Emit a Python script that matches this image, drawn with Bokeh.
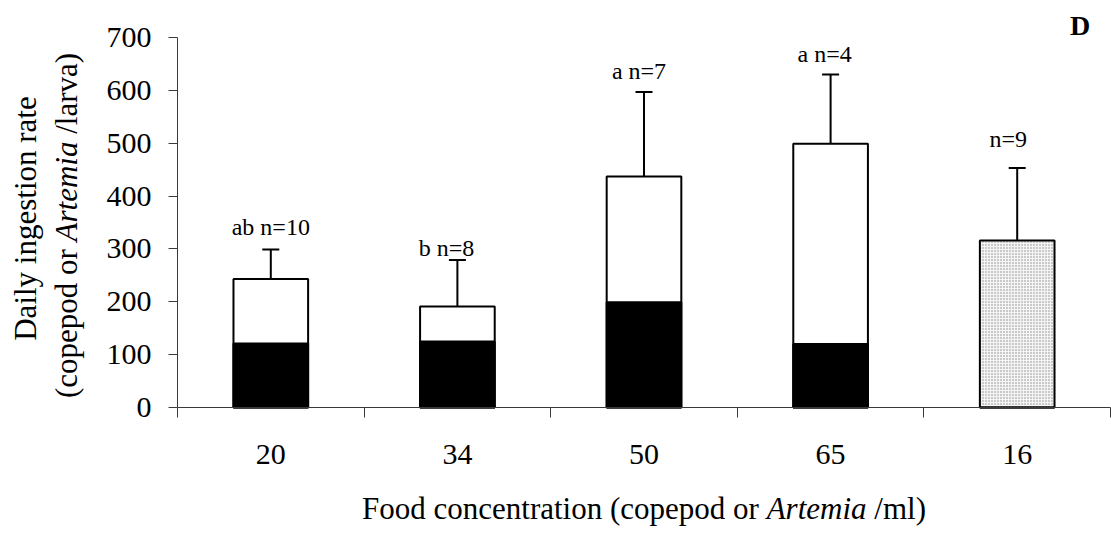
import math

from bokeh.core.properties import value
from bokeh.embed import file_html
from bokeh.models import (ColumnDataSource, FixedTicker, LinearAxis,
                          Range1d, TeeHead, Whisker)
from bokeh.plotting import figure
from bokeh.resources import INLINE

# ---- data -------------------------------------------------------------
concentrations = ["20", "34", "50", "65", "16"]          # food per ml
lower_part = [121, 125, 199, 120, 0]                     # black segment
bar_total = [243, 191, 437, 499, 316]                    # full bar height
upper_sd = [56, 88, 160, 131, 137]                       # upper error
group_labels = ["ab n=10", "b n=8", "a n=7", "a n=4", "n=9"]
y_ticks = [0, 100, 200, 300, 400, 500, 600, 700]

# ---- layout / style ---------------------------------------------------
W, H = 1111, 534
# where the axes sit on the canvas (pixels from the edges)
LEFT, RIGHT, TOP, BOTTOM = 177, 1, 37, 127
Y_MAX = 700
FONT = "Liberation Serif"
AXIS_COLOR = "#3a3a3a"
MID = 0.3375          # baseline -> middle of the text box, in em

LABEL_SIZE = 24
TITLE_SIZE = 31

# pixel nudges (to the baseline) for the group letters above the error bars
label_dx = [0, -11, -5, -6, -9]
label_dy = [-14, -4, -13, -12, -21]

n = len(concentrations)
xs = [i + 0.5 for i in range(n)]
err_top = [t + s for t, s in zip(bar_total, upper_sd)]
fills = ["white"] * (n - 1) + ["#f4f4f4"]
hatches = [" "] * (n - 1) + ["."]

px_per_x = (W - LEFT - RIGHT) / n
px_per_y = (H - TOP - BOTTOM) / Y_MAX


def to_data(px, py):
    """Canvas pixel position -> data coordinates (for free-floating text)."""
    return (px - LEFT) / px_per_x, (H - BOTTOM - py) / px_per_y


# advance widths (1/1000 em) of the serif face, regular and italic
REG = {' ': 250, '(': 333, ')': 333, '/': 278, 'A': 722, 'D': 722, 'F': 556,
       'a': 444, 'c': 444, 'd': 500, 'e': 444, 'g': 500, 'i': 278, 'l': 278,
       'm': 778, 'n': 500, 'o': 500, 'p': 500, 'r': 333, 's': 389, 't': 278,
       'v': 500, 'y': 500}
ITA = {'A': 611, 'r': 389, 't': 278, 'e': 444, 'm': 722, 'i': 278, 'a': 500}


def text_width(s, table, size):
    return sum(table[c] for c in s) * size / 1000.0


# the frame fills the whole canvas; axes are pinned at x=0 / y=0 so that
# every title and letter can sit around them without being clipped
x_range = Range1d(-LEFT / px_per_x, n + RIGHT / px_per_x)
y_range = Range1d(-BOTTOM / px_per_y, Y_MAX + TOP / px_per_y)

p = figure(width=W, height=H, x_range=x_range, y_range=y_range,
           x_axis_type=None, y_axis_type=None,
           output_backend="svg", toolbar_location=None,
           min_border=0)
p.outline_line_color = None
p.background_fill_color = "white"
p.border_fill_color = "white"

# ---- axes -------------------------------------------------------------
xaxis = LinearAxis(
    ticker=FixedTicker(ticks=xs, minor_ticks=list(range(n + 1))),
    major_label_overrides={x: c for x, c in zip(xs, concentrations)},
    fixed_location=0, bounds=(0, n),
    major_tick_in=0, major_tick_out=0, minor_tick_in=0, minor_tick_out=10,
    minor_tick_line_color=AXIS_COLOR, axis_line_color=AXIS_COLOR,
    axis_line_width=1, major_label_standoff=27,
    major_label_text_font=FONT, major_label_text_font_size="30px",
    major_label_text_color="black")
p.add_layout(xaxis, "below")

yaxis = LinearAxis(
    ticker=FixedTicker(ticks=y_ticks),
    fixed_location=0, bounds=(0, Y_MAX),
    major_tick_in=0, major_tick_out=9, minor_tick_in=0, minor_tick_out=0,
    major_tick_line_color=AXIS_COLOR, axis_line_color=AXIS_COLOR,
    axis_line_width=1, major_label_standoff=17,
    major_label_text_font=FONT, major_label_text_font_size="30px",
    major_label_text_color="black")
p.add_layout(yaxis, "left")

# ---- bars -------------------------------------------------------------
src = ColumnDataSource(dict(
    x=xs, lower=lower_part, total=bar_total, err_top=err_top,
    fill=fills, hatch=hatches, label=group_labels,
    dx=label_dx, dy=[d - MID * LABEL_SIZE for d in label_dy]))

p.vbar(x="x", bottom=0, top="total", width=0.4, source=src,
       fill_color="fill", line_color="black", line_width=2,
       hatch_pattern="hatch", hatch_color="#8c8c8c", hatch_scale=3,
       hatch_weight=1)
p.vbar(x="x", bottom=0, top="lower", width=0.4, source=src,
       fill_color="black", line_color="black", line_width=2)

whisk = Whisker(base="x", lower="total", upper="err_top", source=src,
                line_color="black", line_width=2,
                upper_head=TeeHead(size=17, line_color="black", line_width=2),
                lower_head=None)
p.add_layout(whisk)

p.text(x="x", y="err_top", text="label", source=src,
       x_offset="dx", y_offset="dy",
       text_font=value(FONT), text_font_size=f"{LABEL_SIZE}px",
       text_color="black", text_align="center", text_baseline="middle")

# ---- axis titles (mixed roman / italic runs) ---------------------------
SPACE = REG[' '] * TITLE_SIZE / 1000.0
title_rows = dict(x=[], y=[], text=[], style=[], angle=[])


def add_run(segments, start_px, base_px, vertical=False):
    """Lay out text segments one after another along a common baseline."""
    pos = start_px
    mid = base_px - MID * TITLE_SIZE
    for txt, italic, gap_after in segments:
        table = ITA if italic else REG
        x, y = to_data(mid, pos) if vertical else to_data(pos, mid)
        title_rows["x"].append(x)
        title_rows["y"].append(y)
        title_rows["text"].append(txt)
        title_rows["style"].append("italic" if italic else "normal")
        title_rows["angle"].append(math.pi / 2 if vertical else 0.0)
        step = text_width(txt, table, TITLE_SIZE) + gap_after * SPACE
        pos = pos - step if vertical else pos + step


def run_width(segments):
    return sum(text_width(t, ITA if it else REG, TITLE_SIZE) + g * SPACE
               for t, it, g in segments)


x_title = [("Food concentration (copepod or", False, 1),
           ("Artemia", True, 1),
           ("/ml)", False, 0)]
x_center = LEFT + (W - LEFT - RIGHT) / 2
add_run(x_title, x_center - run_width(x_title) / 2, 518)

y_line1 = [("Daily ingestion rate", False, 0)]
add_run(y_line1, 218 + run_width(y_line1) / 2, 35, vertical=True)

y_line2 = [("(copepod or", False, 1),
           ("Artemia", True, 1),
           ("/larva)", False, 0)]
add_run(y_line2, 225 + run_width(y_line2) / 2, 76, vertical=True)

p.text(x="x", y="y", text="text", angle="angle",
       source=ColumnDataSource(title_rows),
       text_font=value(FONT), text_font_size=f"{TITLE_SIZE}px",
       text_font_style="style", text_color="black",
       text_align="left", text_baseline="middle")

# panel letter
letter_x, letter_y = to_data(1079.7, 34 - MID * 28)
p.text(x=[letter_x], y=[letter_y], text=["D"],
       text_font=value(FONT), text_font_size="28px",
       text_font_style="bold", text_color="black",
       text_align="center", text_baseline="middle")

open("out.html", "w").write(file_html(p, INLINE))
